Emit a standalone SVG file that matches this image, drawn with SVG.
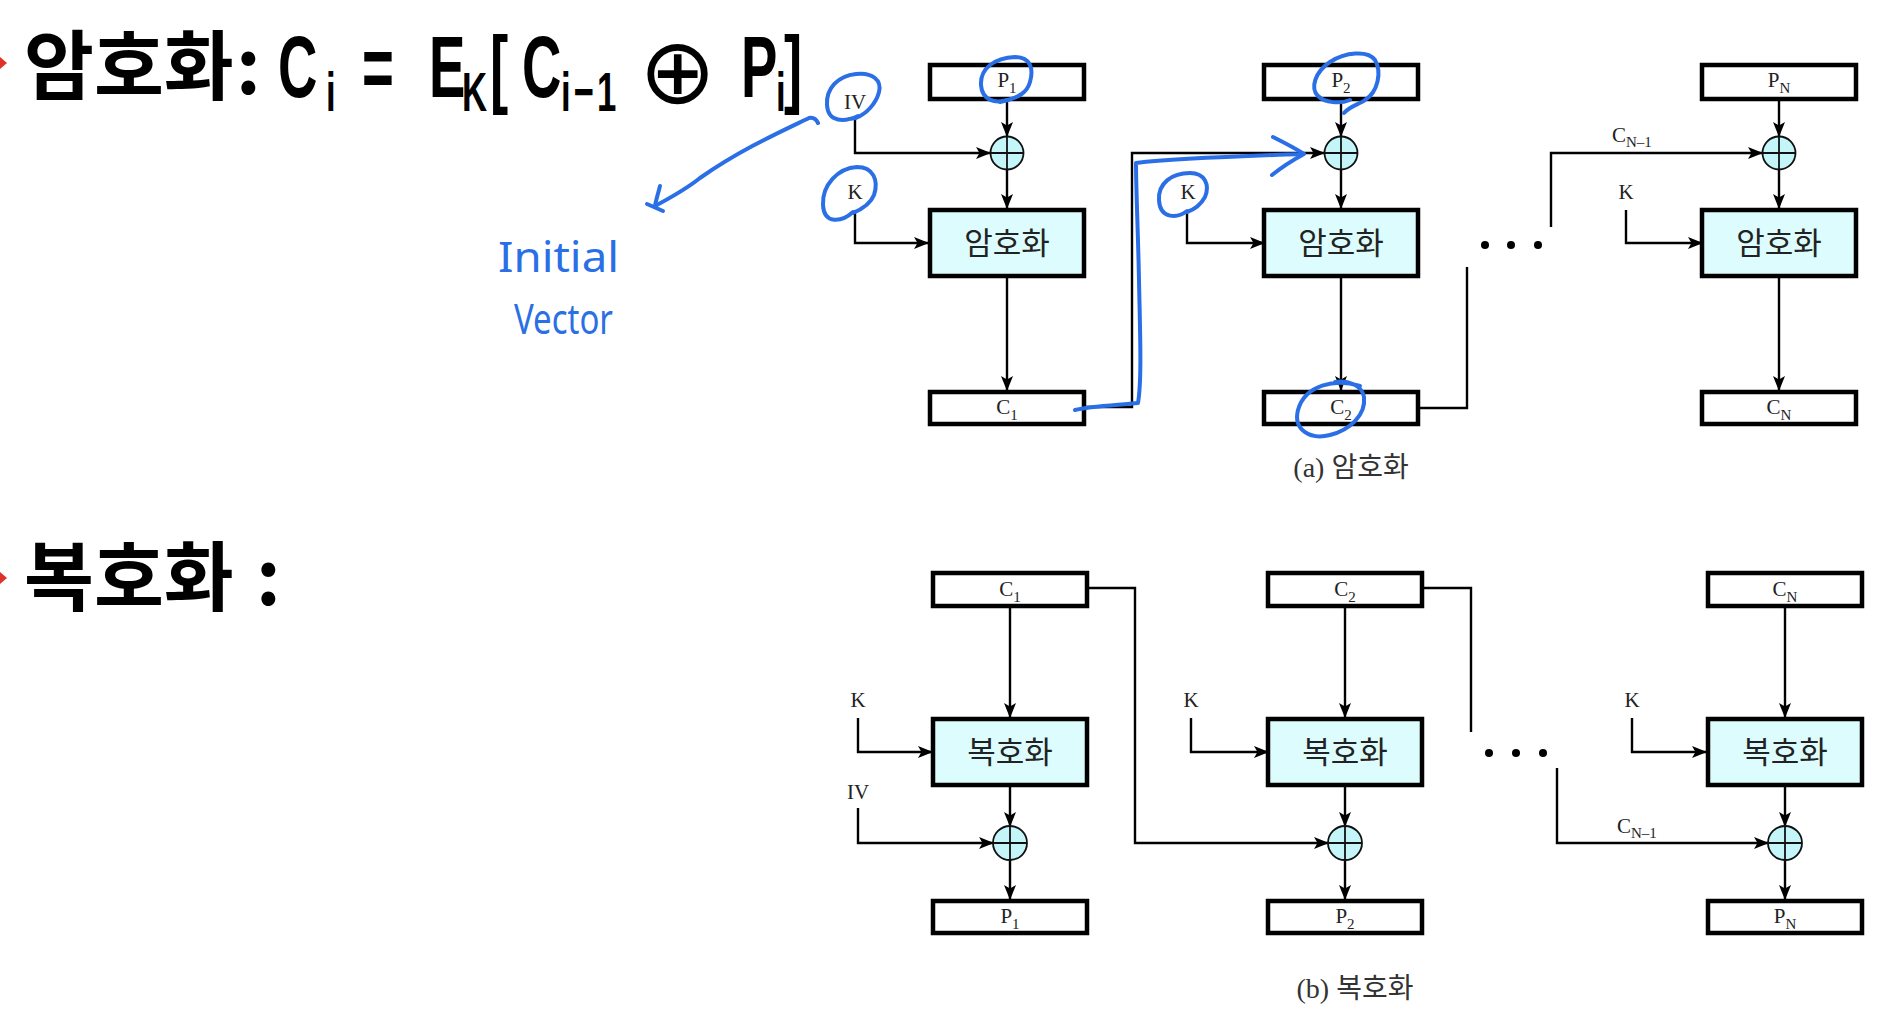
<svg xmlns="http://www.w3.org/2000/svg" width="1896" height="1014" viewBox="0 0 1896 1014">
<style>
.bx{fill:#fff;stroke:#000;stroke-width:4.5}
.op{fill:#ddfcfd;stroke:#000;stroke-width:4.5}
.xr{fill:#c4f5f8;stroke:#111;stroke-width:1.8}
.xl{stroke:#111;stroke-width:1.8}
.cn{fill:none;stroke:#000;stroke-width:2.4}
.lb{font-family:"Liberation Serif","Times New Roman",serif;font-size:21px;fill:#222}
.sb{font-size:15px}
.kr{font-family:"Noto Sans CJK KR",sans-serif;font-size:31px;fill:#222;text-anchor:middle}
.cap{font-family:"Liberation Serif","Noto Sans CJK KR",serif;font-size:28px;fill:#333;text-anchor:middle}
.tk{font-family:"Noto Sans CJK KR",sans-serif;font-weight:bold;font-size:76px;fill:#000}
.tl{font-family:"Liberation Sans",Arial,sans-serif;font-weight:bold;font-size:88px;fill:#000}
.ts{font-size:56px}
.bl{fill:none;stroke:#2b6fe6;stroke-width:4;stroke-linecap:round;stroke-linejoin:round}
.hw{font-family:"Noto Sans",sans-serif;font-size:42px;fill:#2b6fe6}
.dot{fill:#000}
</style>
<defs>
<marker id="arr" markerWidth="15" markerHeight="12" refX="14" refY="6" orient="auto" markerUnits="userSpaceOnUse"><path d="M0,0 L15,6 L0,12 L3.5,6 Z" fill="#000"/></marker>
</defs>

<g id="title">
<polygon points="0,57 7,63 0,69" fill="#e0302a"/>
<text class="tk" x="24" y="94">암호화<tspan x="236">:</tspan></text>
<text class="tl" transform="translate(0,97) scale(0.62,1)"><tspan x="448.4" y="0">C</tspan><tspan class="ts" x="525.8" y="14">i</tspan><tspan x="583.9" y="0">=</tspan><tspan x="691.9" y="0">E</tspan><tspan class="ts" x="745.2" y="14">K</tspan><tspan x="790.3" y="0">[</tspan><tspan x="841.9" y="0">C</tspan><tspan class="ts" x="904.8" y="14" letter-spacing="5">i−1</tspan></text>
<text x="639" y="103" font-family="DejaVu Sans,sans-serif" font-size="92">⊕</text>
<text class="tl" transform="translate(0,97) scale(0.62,1)"><tspan x="1195.2" y="0">P</tspan><tspan class="ts" x="1251.6" y="14">i</tspan><tspan x="1264.5" y="0">]</tspan></text>
</g>
<g id="title2">
<polygon points="0,572 7,578 0,584" fill="#e0302a"/>
<text class="tk" x="24" y="605">복호화<tspan x="256">:</tspan></text>
</g>

<g id="connectors">
<path class="cn" marker-end="url(#arr)" d="M1007,101 V136"/>
<path class="cn" marker-end="url(#arr)" d="M1007,170 V208"/>
<path class="cn" marker-end="url(#arr)" d="M1007,278 V390"/>
<path class="cn" marker-end="url(#arr)" d="M855,117 V153 H990"/>
<path class="cn" marker-end="url(#arr)" d="M855,210 V243 H928"/>
<path class="cn" marker-end="url(#arr)" d="M1086,407 H1132 V153 H1324"/>
<path class="cn" marker-end="url(#arr)" d="M1341,101 V136"/>
<path class="cn" marker-end="url(#arr)" d="M1341,170 V208"/>
<path class="cn" marker-end="url(#arr)" d="M1341,278 V390"/>
<path class="cn" marker-end="url(#arr)" d="M1187,210 V243 H1264"/>
<path class="cn" d="M1419,408 H1467 V267"/>
<path class="cn" marker-end="url(#arr)" d="M1551,227 V153 H1762"/>
<path class="cn" marker-end="url(#arr)" d="M1779,101 V136"/>
<path class="cn" marker-end="url(#arr)" d="M1779,170 V208"/>
<path class="cn" marker-end="url(#arr)" d="M1779,278 V390"/>
<path class="cn" marker-end="url(#arr)" d="M1626,210 V243 H1702"/>

<path class="cn" marker-end="url(#arr)" d="M1010,608 V717"/>
<path class="cn" marker-end="url(#arr)" d="M1010,787 V826"/>
<path class="cn" marker-end="url(#arr)" d="M1010,860 V899"/>
<path class="cn" marker-end="url(#arr)" d="M858,718 V752 H932"/>
<path class="cn" marker-end="url(#arr)" d="M858,808 V843 H993"/>
<path class="cn" marker-end="url(#arr)" d="M1089,588 H1135 V843 H1328"/>
<path class="cn" marker-end="url(#arr)" d="M1345,608 V717"/>
<path class="cn" marker-end="url(#arr)" d="M1345,787 V826"/>
<path class="cn" marker-end="url(#arr)" d="M1345,860 V899"/>
<path class="cn" marker-end="url(#arr)" d="M1191,718 V752 H1268"/>
<path class="cn" d="M1423,588 H1471 V732"/>
<path class="cn" marker-end="url(#arr)" d="M1557,768 V843 H1768"/>
<path class="cn" marker-end="url(#arr)" d="M1785,608 V717"/>
<path class="cn" marker-end="url(#arr)" d="M1785,787 V826"/>
<path class="cn" marker-end="url(#arr)" d="M1785,860 V899"/>
<path class="cn" marker-end="url(#arr)" d="M1632,718 V752 H1706"/>
</g>

<g id="enc-labels">
<text class="lb" x="855" y="109" text-anchor="middle">IV</text>
<text class="lb" x="855" y="199" text-anchor="middle">K</text>
<text class="lb" x="1188" y="199" text-anchor="middle">K</text>
<text class="lb" x="1626" y="199" text-anchor="middle">K</text>
<text class="lb" x="1612" y="142">C<tspan class="sb" dy="5">N–1</tspan></text>
<circle class="dot" cx="1485" cy="245" r="4"/>
<circle class="dot" cx="1511" cy="245" r="4"/>
<circle class="dot" cx="1538" cy="245" r="4"/>
</g>

<g id="enc-col1">
<rect class="bx" x="930" y="65" width="154" height="34"/>
<text class="lb" x="1007" y="87" text-anchor="middle">P<tspan class="sb" dy="6">1</tspan></text>
<circle class="xr" cx="1007" cy="153" r="16.5"/><path class="xl" d="M990.5,153 H1023.5 M1007,136.5 V169.5"/>
<rect class="op" x="930" y="210" width="154" height="66"/>
<text class="kr" x="1007" y="254">암호화</text>
<rect class="bx" x="930" y="392" width="154" height="32"/>
<text class="lb" x="1007" y="414" text-anchor="middle">C<tspan class="sb" dy="6">1</tspan></text>
</g>
<g id="enc-col2">
<rect class="bx" x="1264" y="65" width="154" height="34"/>
<text class="lb" x="1341" y="87" text-anchor="middle">P<tspan class="sb" dy="6">2</tspan></text>
<circle class="xr" cx="1341" cy="153" r="16.5"/><path class="xl" d="M1324.5,153 H1357.5 M1341,136.5 V169.5"/>
<rect class="op" x="1264" y="210" width="154" height="66"/>
<text class="kr" x="1341" y="254">암호화</text>
<rect class="bx" x="1264" y="392" width="154" height="32"/>
<text class="lb" x="1341" y="414" text-anchor="middle">C<tspan class="sb" dy="6">2</tspan></text>
</g>
<g id="enc-colN">
<rect class="bx" x="1702" y="65" width="154" height="34"/>
<text class="lb" x="1779" y="87" text-anchor="middle">P<tspan class="sb" dy="6">N</tspan></text>
<circle class="xr" cx="1779" cy="153" r="16.5"/><path class="xl" d="M1762.5,153 H1795.5 M1779,136.5 V169.5"/>
<rect class="op" x="1702" y="210" width="154" height="66"/>
<text class="kr" x="1779" y="254">암호화</text>
<rect class="bx" x="1702" y="392" width="154" height="32"/>
<text class="lb" x="1779" y="414" text-anchor="middle">C<tspan class="sb" dy="6">N</tspan></text>
</g>
<text id="cap-a" class="cap" x="1351" y="477">(a) 암호화</text>

<g id="dec-labels">
<text class="lb" x="858" y="707" text-anchor="middle">K</text>
<text class="lb" x="858" y="799" text-anchor="middle">IV</text>
<text class="lb" x="1191" y="707" text-anchor="middle">K</text>
<text class="lb" x="1632" y="707" text-anchor="middle">K</text>
<text class="lb" x="1617" y="833">C<tspan class="sb" dy="5">N–1</tspan></text>
<circle class="dot" cx="1489" cy="753" r="4"/>
<circle class="dot" cx="1516" cy="753" r="4"/>
<circle class="dot" cx="1543" cy="753" r="4"/>
</g>
<g id="dec-col1">
<rect class="bx" x="933" y="573" width="154" height="33"/>
<text class="lb" x="1010" y="596" text-anchor="middle">C<tspan class="sb" dy="6">1</tspan></text>
<rect class="op" x="933" y="719" width="154" height="66"/>
<text class="kr" x="1010" y="763">복호화</text>
<circle class="xr" cx="1010" cy="843" r="17"/><path class="xl" d="M993,843 H1027 M1010,826 V860"/>
<rect class="bx" x="933" y="901" width="154" height="32"/>
<text class="lb" x="1010" y="923" text-anchor="middle">P<tspan class="sb" dy="6">1</tspan></text>
</g>
<g id="dec-col2">
<rect class="bx" x="1268" y="573" width="154" height="33"/>
<text class="lb" x="1345" y="596" text-anchor="middle">C<tspan class="sb" dy="6">2</tspan></text>
<rect class="op" x="1268" y="719" width="154" height="66"/>
<text class="kr" x="1345" y="763">복호화</text>
<circle class="xr" cx="1345" cy="843" r="17"/><path class="xl" d="M1328,843 H1362 M1345,826 V860"/>
<rect class="bx" x="1268" y="901" width="154" height="32"/>
<text class="lb" x="1345" y="923" text-anchor="middle">P<tspan class="sb" dy="6">2</tspan></text>
</g>
<g id="dec-colN">
<rect class="bx" x="1708" y="573" width="154" height="33"/>
<text class="lb" x="1785" y="596" text-anchor="middle">C<tspan class="sb" dy="6">N</tspan></text>
<rect class="op" x="1708" y="719" width="154" height="66"/>
<text class="kr" x="1785" y="763">복호화</text>
<circle class="xr" cx="1785" cy="843" r="17"/><path class="xl" d="M1768,843 H1802 M1785,826 V860"/>
<rect class="bx" x="1708" y="901" width="154" height="32"/>
<text class="lb" x="1785" y="923" text-anchor="middle">P<tspan class="sb" dy="6">N</tspan></text>
</g>
<text id="cap-b" class="cap" x="1355" y="998">(b) 복호화</text>

<g id="annotations">
<path class="bl" d="M858,116 C845,122 828,123 827,105 C826,88 838,76 856,74 C872,72 882,80 879,92 C876,104 866,114 856,118 L849,119"/>
<path class="bl" d="M853,212 C842,222 824,225 823,205 C822,185 838,168 857,167 C873,167 879,180 874,195 C870,205 860,210 853,213"/>
<path class="bl" d="M818,123 C816,119 813,117 809,118 C780,132 740,150 700,178 C685,190 670,198 655,206"/>
<path class="bl" d="M660,186 C658,194 656,200 655,206 M647,204 L663,211"/>
<path class="bl" d="M1007,100 C995,104 982,100 981,85 C980,68 995,58 1015,57 C1030,57 1034,68 1030,82 C1027,93 1018,97 1008,100 L1000,102"/>
<path class="bl" d="M1344,113 C1350,106 1360,104 1365,100 C1378,92 1382,72 1375,60 C1368,50 1345,52 1330,62 C1315,72 1310,88 1318,96 C1325,103 1340,104 1350,100"/>
<path class="bl" d="M1187,211 C1178,218 1160,220 1159,200 C1158,183 1172,173 1190,173 C1205,173 1210,185 1205,197 C1200,206 1193,210 1187,212"/>
<path class="bl" d="M1360,386 C1335,378 1305,385 1298,410 C1293,430 1310,440 1330,435 C1350,430 1366,415 1364,397 C1362,385 1348,380 1335,382"/>
<path class="bl" d="M1075,410 C1090,406 1120,405 1138,403 C1142,380 1140,330 1139,280 C1138,230 1136,190 1136,163 C1180,158 1250,156 1302,154"/>
<path class="bl" d="M1273,137 C1285,143 1295,148 1304,154 C1293,160 1282,167 1272,175"/>
<text class="hw" x="498" y="272" textLength="121" lengthAdjust="spacingAndGlyphs">Initial</text>
<text class="hw" x="514" y="334" font-size="44" textLength="99" lengthAdjust="spacingAndGlyphs">Vector</text>
</g>
</svg>
